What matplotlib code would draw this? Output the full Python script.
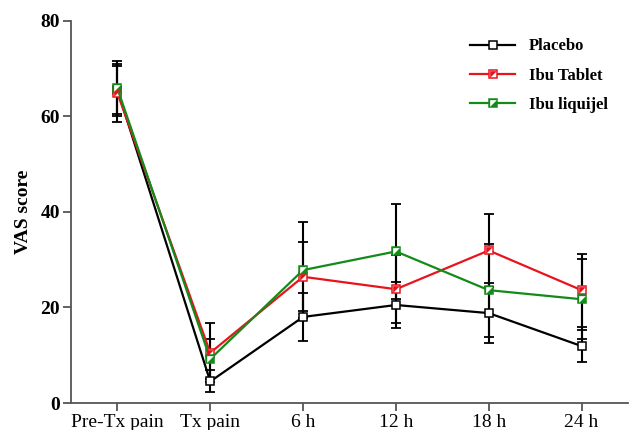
import matplotlib
matplotlib.use("Agg")
import matplotlib.pyplot as plt
import numpy as np

# ---- data ----
timepoints = ["Pre-Tx pain", "Tx pain", "6 h", "12 h", "18 h", "24 h"]
placebo = [65.5, 4.5, 18.0, 20.5, 18.8, 11.9]
placebo_err = [5.0, 2.3, 5.0, 4.8, 6.3, 3.3]
tablet = [64.8, 10.5, 26.4, 23.8, 31.9, 23.6]
tablet_err = [6.0, 6.2, 7.2, 7.1, 7.6, 7.6]
liquijel = [65.8, 9.2, 27.8, 31.7, 23.6, 21.7]
liquijel_err = [5.7, 4.2, 10.1, 9.9, 9.7, 8.4]

# name, values, sd, colour, square face, triangle face (None = plain square)
series = [
    ("Placebo", placebo, placebo_err, "black", "white", None),
    ("Ibu Tablet", tablet, tablet_err, "#e8141c", "white", "#e8141c"),
    ("Ibu liquijel", liquijel, liquijel_err, "#138a1a", "#138a1a", "white"),
]

plt.rcParams["font.family"] = ["Liberation Serif", "DejaVu Serif"]

fig = plt.figure(figsize=(6.29, 4.30), dpi=100)
ax = fig.add_axes([71 / 629, 27 / 430, 557 / 629, 382.5 / 430])

x = np.arange(len(timepoints))
tri = [(-1, 1), (1, 1), (-1, -1), (-1, 1)]  # upper-left half of the square

# error bars first (all black), then lines and markers on top
for name, y, err, col, face, tface in series:
    ax.errorbar(x, y, yerr=err, fmt="none", ecolor="black", elinewidth=1.5,
                capsize=3.5, capthick=1.3, zorder=2)

handles = []
for name, y, err, col, face, tface in series:
    ln, = ax.plot(x, y, color=col, lw=1.6, marker="s", markersize=6,
                  markerfacecolor=face, markeredgecolor=col,
                  markeredgewidth=1.1, zorder=3)
    if tface is None:
        handles.append(ln)
    else:
        t, = ax.plot(x, y, ls="none", marker=tri, markersize=4.8,
                     markerfacecolor=tface, markeredgewidth=0, zorder=4)
        handles.append((ln, t))

ax.set_xlim(-0.5, 5.5)
ax.set_ylim(0, 80)
ax.set_xticks(x)
ax.set_xticklabels(timepoints, fontsize=14)
ax.set_yticks([0, 20, 40, 60, 80])
ax.set_yticklabels(["0", "20", "40", "60", "80"], fontsize=14, fontweight="bold")
ax.set_ylabel("VAS score", fontsize=14, fontweight="bold", labelpad=6)

for s in ["top", "right"]:
    ax.spines[s].set_visible(False)
for s in ["left", "bottom"]:
    ax.spines[s].set_color("#555555")
    ax.spines[s].set_linewidth(1.3)
ax.tick_params(direction="out", length=6, width=1.3, color="#555555", pad=2)

ax.legend(handles, [s[0] for s in series], loc="upper left",
          bbox_to_anchor=(462 / 629, 1 - 30 / 430),
          bbox_transform=fig.transFigure, frameon=False,
          prop={"weight": "bold", "size": 12}, handlelength=2.7,
          handletextpad=0.8, labelspacing=0.8, borderpad=0)

fig.savefig("out.png", dpi=100)
